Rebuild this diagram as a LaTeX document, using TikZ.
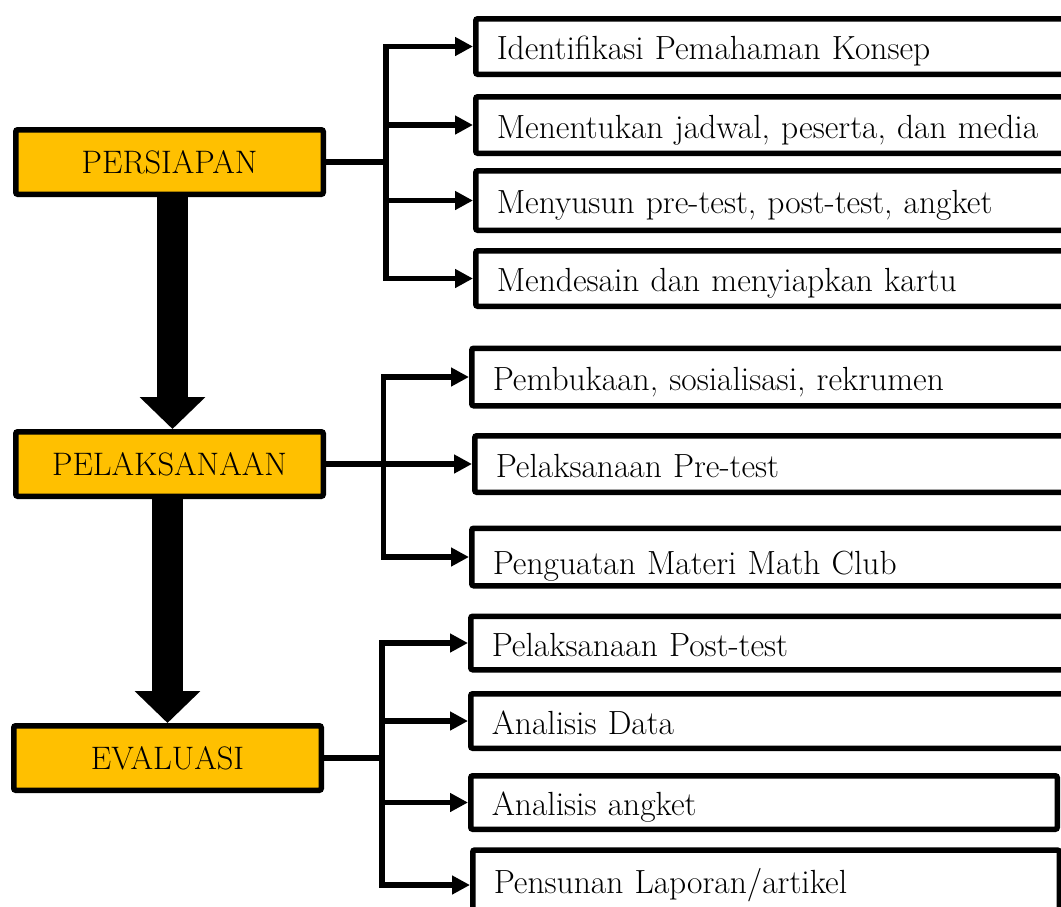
\documentclass[tikz,border=0pt]{standalone}
\usetikzlibrary{arrows.meta}
\definecolor{phasefill}{HTML}{FFC000}
\tikzset{
  phase/.style={draw,line width=5.5pt,fill=phasefill,rounded corners=2pt,
    minimum width=307.5pt,minimum height=64.5pt,font=\fontsize{32.5}{38}\selectfont},
  task/.style={draw,line width=5.5pt,fill=white,rounded corners=2pt,anchor=west,
    text width=600pt,align=left,inner xsep=21pt,inner ysep=2pt,
    text height=31pt,text depth=5pt,font=\fontsize{33.5}{40}\selectfont},
  link/.style={line width=5.5pt},
  branch/.style={line width=5.5pt,-{Triangle[length=18pt,width=18pt]}},
  flow/.style={line width=31pt,-{Triangle[length=32pt,width=64pt]}},
}

\begin{document}
\begin{tikzpicture}[x=1pt,y=-1pt]
  \useasboundingbox (0,0) rectangle (1061,906);
  \clip (0,0) rectangle (1061,906);
  % phases
  \node[phase] (prep) at (169.5,162) {PERSIAPAN};
  \node[phase] (exec) at (169.5,464) {PELAKSANAAN};
  \node[phase] (eval) at (167.5,758) {EVALUASI};
  \draw[flow] ([xshift=3pt]prep.south) -- ([xshift=3pt]exec.north);
  \draw[flow] (exec.south -| eval.north) -- (eval.north);
  % tasks
  \node[task,minimum height=55.5pt] (t1) at (473,46.5) {Identifikasi Pemahaman Konsep};
  \node[task,minimum height=56.5pt] (t2) at (473,125) {Menentukan jadwal, peserta, dan media};
  \node[task,minimum height=59.5pt] (t3) at (473,200.5) {Menyusun pre-test, post-test, angket};
  \node[task,minimum height=55.5pt] (t4) at (473,278.5) {Mendesain dan menyiapkan kartu};
  \node[task,minimum height=57.5pt] (t5) at (469,377) {Pembukaan, sosialisasi, rekrumen};
  \node[task,minimum height=56.5pt] (t6) at (472,464) {Pelaksanaan Pre-test};
  \node[task,minimum height=57.5pt,text height=39pt] (t7) at (469,557) {Penguatan Materi Math Club};
  \node[task,minimum height=53.5pt] (t8) at (468,643) {Pelaksanaan Post-test};
  \node[task,minimum height=54.5pt] (t9) at (468,721) {Analisis Data};
  \node[task,minimum height=53.5pt,text width=544.5pt] (t10) at (468,802.5) {Analisis angket};
  \node[task,minimum height=70pt,text width=544.5pt,text height=21pt] (t11) at (470,885) {Pensunan Laporan/artikel};
  % connectors
  \coordinate (j1) at (386,162);
  \coordinate (j2) at (383.5,464);
  \coordinate (j3) at (382,758);
  \draw[link] (prep.east) -- (j1);
  \draw[link,line cap=rect] (j1 |- t1.west) -- (j1 |- t4.west);
  \foreach \t in {t1,t2,t3,t4} \draw[branch] (j1 |- \t.west) -- (\t.west);
  \draw[link] (exec.east) -- (j2);
  \draw[link,line cap=rect] (j2 |- t5.west) -- (j2 |- t7.west);
  \foreach \t in {t5,t6,t7} \draw[branch] (j2 |- \t.west) -- (\t.west);
  \draw[link] (eval.east) -- (j3);
  \draw[link,line cap=rect] (j3 |- t8.west) -- (j3 |- t11.west);
  \foreach \t in {t8,t9,t10,t11} \draw[branch] (j3 |- \t.west) -- (\t.west);
\end{tikzpicture}
\end{document}
